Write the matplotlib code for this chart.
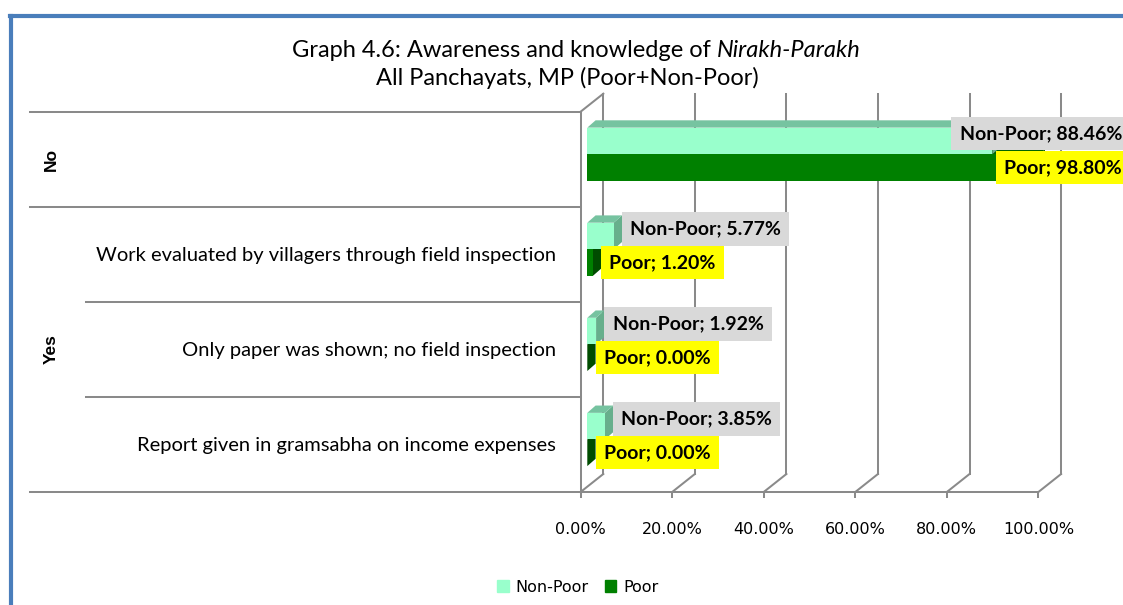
import matplotlib
matplotlib.use("Agg")
import matplotlib.pyplot as plt
import matplotlib.transforms as mtransforms
from matplotlib.patches import Polygon, Patch
from matplotlib.lines import Line2D

# --- data (rows from top to bottom) ---
row_groups = ["No", "Yes", "Yes", "Yes"]
row_items = ["",
             "Work evaluated by villagers through field inspection",
             "Only paper was shown; no field inspection",
             "Report given in gramsabha on income expenses"]
non_poor = [88.46, 5.77, 1.92, 3.85]
poor = [98.80, 1.20, 0.00, 0.00]
series = ["Non-Poor", "Poor"]
xticks = [0, 20, 40, 60, 80, 100]
title_1 = "Graph 4.6: Awareness and knowledge of"
title_1_it = "Nirakh-Parakh"
title_2 = "All Panchayats, MP (Poor+Non-Poor)"

# --- colours ---
np_front, np_top, np_side = "#99FFCC", "#76C3A0", "#67AF8C"
p_front, p_top, p_side = "#008000", "#006400", "#004C00"
grid_c = "#8A8A8A"
frame_c = "#4A7EBB"

W, H = 1123, 605
fig = plt.figure(figsize=(W / 100, H / 100), dpi=100)
fig.patch.set_facecolor("white")


def fx(px):
    return px / W


def fy(py):
    return 1 - py / H


# front plane of the 3d box (pixels)
x0, x1 = 580.6, 1038.4
ytop, ybot = 111.7, 492.0
nrows = len(row_items)

ax_front = fig.add_axes([fx(x0), fy(ybot), (x1 - x0) / W, (ybot - ytop) / H])
ax_front.set_xlim(0, 100)
ax_front.set_ylim(0, nrows)
ax_front.set_facecolor("none")
for s in ["top", "right"]:
    ax_front.spines[s].set_visible(False)
for s in ["left", "bottom"]:
    ax_front.spines[s].set_color(grid_c)
    ax_front.spines[s].set_linewidth(1.45)
ax_front.set_yticks([])
ax_front.set_xticks(xticks)
ax_front.set_xticklabels([f"{t:.2f}%" for t in xticks], family="DejaVu Sans", fontsize=11.5)
ax_front.tick_params(axis="x", length=4.3, width=1.45, color=grid_c, pad=17)

# back wall gridlines + floor diagonals (depth offset in data units)
px_per_x = (x1 - x0) / 100
px_per_row = (ybot - ytop) / nrows
back_dx = 22.7 / px_per_x
back_dy = 18.0 / px_per_row
for t in xticks:
    ax_front.plot([t + back_dx, t + back_dx], [back_dy, nrows + back_dy], color=grid_c,
                  lw=1.45, clip_on=False, zorder=1)
    ax_front.plot([t, t + back_dx], [0, back_dy], color=grid_c, lw=1.45, clip_on=False, zorder=1)
ax_front.plot([0, back_dx], [nrows, nrows + back_dy], color=grid_c, lw=1.45, clip_on=False, zorder=1)

# category table on the left
blend = mtransforms.blended_transform_factory(fig.transFigure, ax_front.transData)
group_edges = [0] + [k for k in range(1, nrows) if row_groups[k] != row_groups[k - 1]] + [nrows]
for k in range(nrows + 1):
    xs = 30 if k in group_edges else 86
    ax_front.add_line(Line2D([fx(xs), fx(x0)], [nrows - k, nrows - k], transform=blend,
                             color=grid_c, lw=1.45, clip_on=False))

for i, item in enumerate(row_items):
    yc = nrows - 0.5 - i
    if item:
        ax_front.annotate(item, xy=(fx(556), yc), xycoords=blend, xytext=(0, -5),
                          textcoords="offset points", ha="right", va="baseline",
                          family="Lato", fontsize=14.5, color="black")

for g0, g1 in zip(group_edges[:-1], group_edges[1:]):
    yc = nrows - (g0 + g1) / 2
    ax_front.text(fx(51), yc, row_groups[g0], transform=blend, rotation=90, ha="center",
                  va="center", family="Liberation Sans", fontweight="bold", fontsize=12.5)

# bar plane sits a bit behind the front plane
ax = fig.add_axes([fx(x0 + 6.7), fy(ybot - 5), (x1 - x0) / W, (ybot - ytop) / H])
ax.set_xlim(0, 100)
ax.set_ylim(0, nrows)
ax.axis("off")

bh = 0.28
ddx = 8.3 / px_per_x
ddy = 7.3 / px_per_row


def bar3d(y, v, front, top, side, z):
    yb, yt = y - bh / 2, y + bh / 2
    ax.barh(y, v, height=bh, color=front, zorder=z + 0.5)
    ax.add_patch(Polygon([(v, yb), (v, yt), (v + ddx, yt + ddy), (v + ddx, yb + ddy)],
                         closed=True, color=side, zorder=z, lw=0))
    ax.add_patch(Polygon([(0, yt), (ddx, yt + ddy), (v + ddx, yt + ddy), (v, yt)],
                         closed=True, color=top, zorder=z, lw=0))


lab_size = 14
lab_pad = 0.42
pad_pt = lab_pad * lab_size
labels = []
for i in range(nrows):
    yc = nrows - 0.5 - i
    bar3d(yc - bh / 2, poor[i], p_front, p_top, p_side, 2)
    bar3d(yc + bh / 2, non_poor[i], np_front, np_top, np_side, 3)

    a = ax.annotate(f"{series[0]}; {non_poor[i]:.2f}%", xy=(non_poor[i] + ddx, yc - bh / 2 + 0.355),
                    xytext=(pad_pt, 0), textcoords="offset points", ha="left", va="center",
                    family="Lato", fontweight="bold", fontsize=lab_size, zorder=6,
                    annotation_clip=False,
                    bbox=dict(boxstyle=f"square,pad={lab_pad}", fc="#D9D9D9", ec="none"))
    b = ax.annotate(f"{series[1]}; {poor[i]:.2f}%", xy=(poor[i] + ddx, yc - bh / 2),
                    xytext=(pad_pt, 0), textcoords="offset points", ha="left", va="center",
                    family="Lato", fontweight="bold", fontsize=lab_size, zorder=7,
                    annotation_clip=False,
                    bbox=dict(boxstyle=f"square,pad={lab_pad}", fc="#FFFF00", ec="none"))
    labels += [a, b]

# legend
handles = [Patch(color=np_front), Patch(color=p_front)]
fig.legend(handles, series, ncol=2, loc="center", bbox_to_anchor=(fx(578), fy(587)),
           frameon=False, prop=dict(family="DejaVu Sans", size=11.5), handlelength=0.7,
           handleheight=0.7, handletextpad=0.45, columnspacing=1.0)

# title (second half of first line in italics)
t1a = fig.text(0, fy(56.7), title_1, family="Lato", fontsize=17, va="baseline")
t1b = fig.text(0, fy(56.7), title_1_it, family="Lato", fontsize=17, style="italic", va="baseline")
fig.text(fx(567), fy(85), title_2, family="Lato", fontsize=17, va="baseline", ha="center")

# outer frame
fig.add_artist(Line2D([fx(11), fx(11)], [0, fy(16)], color=frame_c, lw=3))
fig.add_artist(Line2D([fx(9.5), 1], [fy(16), fy(16)], color=frame_c, lw=3))

# place title pieces and push labels that would leave the picture back inside
fig.canvas.draw()
r = fig.canvas.get_renderer()
wa = t1a.get_window_extent(r).width
wb = t1b.get_window_extent(r).width
gap = 6
left = 576 - (wa + gap + wb) / 2
t1a.set_x(fx(left))
t1b.set_x(fx(left + wa + gap))
for lab in labels:
    tb = lab.get_window_extent(r)
    limit = W - 1
    if tb.x1 > limit:
        shift = (tb.x1 - limit) * 72 / fig.dpi
        lab.xyann = (lab.xyann[0] - shift, lab.xyann[1])

fig.savefig("out.png", dpi=100)
